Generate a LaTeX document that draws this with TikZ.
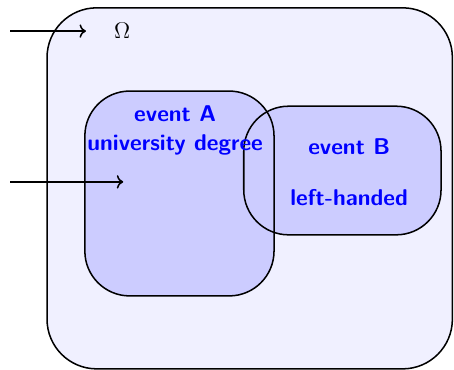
\documentclass[tikz,border=0pt]{standalone}
\usepackage{tikz}
\usetikzlibrary{arrows.meta,positioning,calc}
\definecolor{SpaceFill}{RGB}{240,240,255}
\definecolor{EventFill}{RGB}{204,204,255}
\tikzset{
  spacebox/.style={fill=SpaceFill,draw=black,thick,rounded corners=0.92cm,
    inner sep=0pt,outer sep=0pt},
  eventfill/.style={fill=EventFill,rounded corners=0.83cm,inner sep=0pt,
    outer sep=0pt},
  eventline/.style={draw=black,thick,rounded corners=0.83cm},
  eventlabel/.style={font=\large\sffamily\bfseries,text=blue,align=center},
  pointer/.style={->,thick,black}
}

\begin{document}
\begin{tikzpicture}

\useasboundingbox (0,0) rectangle (8.40,6.845);

% Sample space
\node[spacebox,minimum width=7.50cm,minimum height=6.68cm] (space) at (4.62,3.36) {};
\node[font=\large] (omega) at (2.26,6.27) {$\Omega$};

% Events (fills first, borders on top)
\node[eventfill,minimum width=3.50cm,minimum height=3.79cm] (evA) at (3.32,3.265) {};
\node[eventfill,minimum width=3.65cm,minimum height=2.38cm] (evB) at (6.335,3.69) {};
\draw[eventline] (evA.south west) rectangle (evA.north east);
\draw[eventline] (evB.south west) rectangle (evB.north east);

\node[eventlabel] (labA) at (3.24,4.43) {event A\\[1pt]university degree};
\node[eventlabel] (labB) at (6.46,3.66) {event B\\[13pt]left-handed};

% Pointers
\coordinate (omegaIn) at (0.19,6.27);
\coordinate (omegaTip) at (1.59,6.27);
\coordinate (eventIn) at (0.19,3.48);
\coordinate (eventTip) at (2.28,3.48);
\draw[pointer] (omegaIn) -- (omegaTip);
\draw[pointer] (eventIn) -- (eventTip);

\end{tikzpicture}
\end{document}
